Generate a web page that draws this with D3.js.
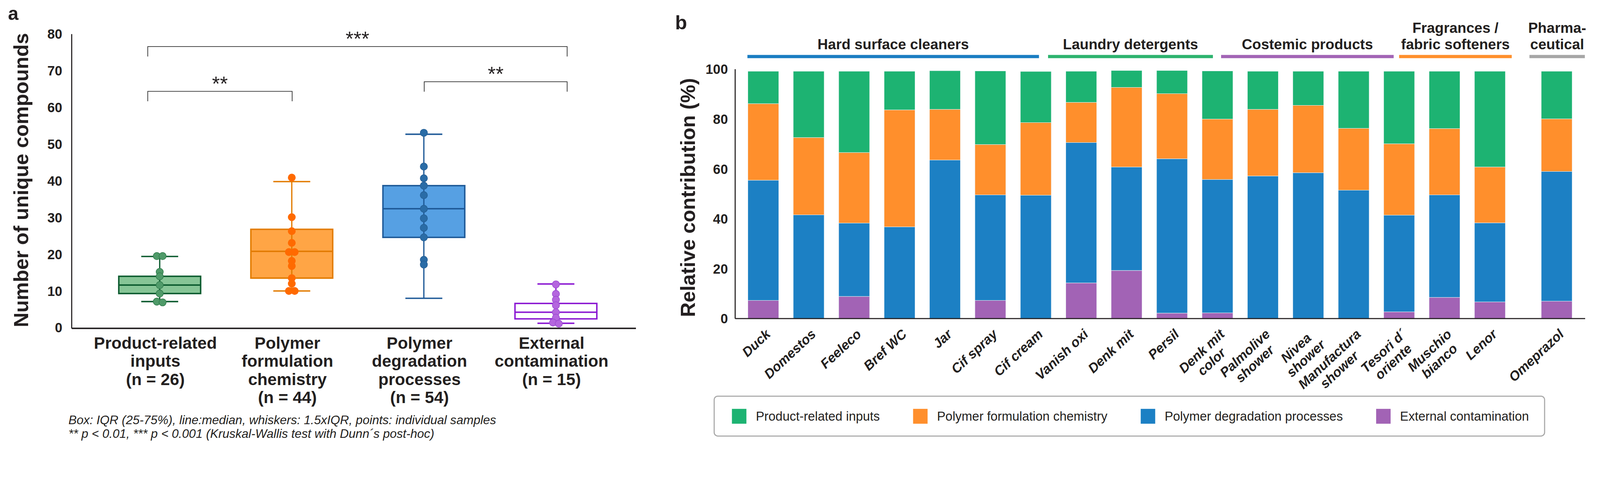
<!DOCTYPE html>
<html>
<head>
<meta charset="utf-8">
<script src="https://cdn.jsdelivr.net/npm/d3@7"></script>
<style>
  html, body { margin: 0; padding: 0; background: #fff; overflow: hidden; }
  svg { display: block; width: 100vw; height: 100vh; }
  text { font-family: "Liberation Sans", Arial, sans-serif; fill: #231f20; }
</style>
</head>
<body>
<script>
/* Panel a: box plots of unique compounds, panel b: stacked contribution bars */

// ---- panel a data ----
const boxCategories = ["Product-related inputs", "Polymer formulation chemistry", "Polymer degradation processes", "External contamination"];
const boxLabels = [
    ["Product-related", "inputs", "(n = 26)"],
    ["Polymer", "formulation", "chemistry", "(n = 44)"],
    ["Polymer", "degradation", "processes", "(n = 54)"],
    ["External", "contamination", "(n = 15)"]
];
const whiskerLow  = [7.1, 10.0, 8.0, 1.2];
const quart1      = [9.3, 13.5, 24.6, 2.4];
const medians     = [11.6, 20.8, 32.4, 4.2];
const quart3      = [14.0, 26.8, 38.7, 6.6];
const whiskerHigh = [19.4, 39.8, 52.7, 11.9];
const samplesProduct     = [19.5, 19.5, 15.2, 14.0, 11.6, 9.3, 7.1, 6.9];
const samplesFormulation = [40.9, 30.1, 26.3, 23.1, 20.6, 20.6, 18.2, 16.8, 13.5, 12.0, 10.0, 10.0];
const samplesDegradation = [53.1, 43.9, 40.7, 38.7, 36.1, 32.4, 29.8, 27.2, 24.6, 18.5, 17.2];
const samplesExternal    = [11.8, 9.2, 7.6, 6.1, 4.2, 2.7, 1.4, 1.1];
const boxTicks = [0, 10, 20, 30, 40, 50, 60, 70, 80];
// significance: [from, to, level, stars]
const sigFrom  = [0, 0, 2];
const sigTo    = [3, 1, 3];
const sigLevel = [76.6, 64.4, 67.0];
const sigStars = ["***", "**", "**"];

// ---- panel b data ----
const products = ["Duck", "Domestos", "Feeleco", "Bref WC", "Jar", "Cif spray", "Cif cream",
    "Vanish oxi", "Denk mit", "Persil", "Denk mit color",
    "Palmolive shower", "Nivea shower", "Manufactura shower",
    "Tesori d´ oriente", "Muschio bianco", "Lenor", "Omeprazol"];
const productLabels = [["Duck"], ["Domestos"], ["Feeleco"], ["Bref WC"], ["Jar"], ["Cif spray"], ["Cif cream"],
    ["Vanish oxi"], ["Denk mit"], ["Persil"], ["Denk mit", "color"],
    ["Palmolive", "shower"], ["Nivea", "shower"], ["Manufactura", "shower"],
    ["Tesori d´", "oriente"], ["Muschio", "bianco"], ["Lenor"], ["Omeprazol"]];
const externalContamination = [7.3, 0, 8.9, 0, 0, 7.3, 0, 14.3, 19.3, 2.2, 2.3, 0, 0, 0, 2.7, 8.5, 6.7, 7.0];
const polymerDegradation    = [48.2, 41.6, 29.4, 36.8, 63.6, 42.3, 49.5, 56.3, 41.5, 61.9, 53.5, 57.2, 58.5, 51.5, 38.8, 41.1, 31.7, 52.0];
const polymerFormulation    = [30.7, 31.0, 28.3, 46.9, 20.3, 20.2, 29.1, 16.1, 31.9, 26.1, 24.2, 26.7, 27.0, 24.8, 28.6, 26.6, 22.4, 21.1];
const productRelated        = [13.0, 26.6, 32.6, 15.5, 15.5, 29.5, 20.5, 12.5, 6.8, 9.3, 19.3, 15.3, 13.7, 22.9, 29.1, 23.0, 38.4, 19.1];
const groupNames = [["Hard surface cleaners"], ["Laundry detergents"], ["Costemic products"], ["Fragrances /", "fabric softeners"], ["Pharma-", "ceutical"]];
const groupSizes = [7, 4, 3, 3, 1];
const barTicks = [0, 20, 40, 60, 80, 100];
const seriesNames = ["Product-related inputs", "Polymer formulation chemistry", "Polymer degradation processes", "External contamination"];

const width = 4418, height = 1238;

let svg = d3.select("body")
    .append("svg")
    .attr("viewBox", [0, 0, width, height]) // scale to whatever the window is
    .attr("preserveAspectRatio", "xMidYMin meet");

// ================= panel a =================
const boxFill   = ["#86c596", "#ffa545", "#56a0e3", "#ffffff"];
const boxStroke = ["#0b5a2e", "#e27b00", "#1f5a98", "#8b18d2"];
const dotFill   = ["#4f9a69", "#ff6a00", "#2a6ca6", "#b466de"];
const dotStroke = ["#2e7a4a", "#ff6a00", "#245e94", "#9a48d0"];
const samples = [samplesProduct, samplesFormulation, samplesDegradation, samplesExternal];

let yA = d3.scaleLinear().domain([0, 80]).range([904, 94]);
let xA = d3.scalePoint().domain(boxCategories).range([441, 1535]);

svg.append("text").text("a")
    .attr("x", 22).attr("y", 55)
    .style("font-size", "52px").style("font-weight", "bold");

// y axis (no tick marks, just labels)
svg.append("line")
    .attr("x1", 198).attr("x2", 198)
    .attr("y1", yA(80)).attr("y2", yA(0) + 2)
    .attr("stroke", "#231f20").attr("stroke-width", 3);

svg.append("g").selectAll("text")
    .data(boxTicks)
    .join("text")
    .attr("x", 172)
    .attr("y", d => yA(d))
    .attr("dy", "0.36em")
    .attr("text-anchor", "end")
    .style("font-size", "37px").style("font-weight", "bold")
    .text(d => d);

svg.append("text")
    .attr("transform", "translate(58,497) rotate(-90)")
    .attr("dy", "0.35em")
    .attr("text-anchor", "middle")
    .style("font-size", "56px").style("font-weight", "bold")
    .text("Number of unique compounds");

// spread near-equal samples sideways so they stay visible
function spread(vals, step) {
    let offs = vals.map(() => 0);
    let i = 0;
    while (i < vals.length) {
        let j = i;
        while (j + 1 < vals.length && Math.abs(vals[j + 1] - vals[i]) < 0.8) j++;
        let n = j - i + 1;
        for (let k = i; k <= j; k++) offs[k] = (k - i - (n - 1) / 2) * step;
        i = j + 1;
    }
    return offs;
}

boxCategories.forEach((c, i) => {
    let cx = xA(c);
    let g = svg.append("g");
    g.append("rect")
        .attr("x", cx - 113).attr("width", 226)
        .attr("y", yA(quart3[i])).attr("height", yA(quart1[i]) - yA(quart3[i]))
        .attr("fill", boxFill[i]).attr("stroke", boxStroke[i]).attr("stroke-width", 4);
    g.append("line")
        .attr("x1", cx).attr("x2", cx)
        .attr("y1", yA(whiskerLow[i])).attr("y2", yA(whiskerHigh[i]))
        .attr("stroke", boxStroke[i]).attr("stroke-width", 3.5);
    [whiskerLow[i], whiskerHigh[i]].forEach(v => {
        g.append("line")
            .attr("x1", cx - 51).attr("x2", cx + 51)
            .attr("y1", yA(v)).attr("y2", yA(v))
            .attr("stroke", boxStroke[i]).attr("stroke-width", 4);
    });
    g.append("line")
        .attr("x1", cx - 113).attr("x2", cx + 113)
        .attr("y1", yA(medians[i])).attr("y2", yA(medians[i]))
        .attr("stroke", boxStroke[i]).attr("stroke-width", 4);
    let offs = spread(samples[i], 16);
    g.selectAll("circle")
        .data(samples[i])
        .join("circle")
        .attr("cx", (d, k) => cx + offs[k])
        .attr("cy", d => yA(d))
        .attr("r", 10)
        .attr("fill", dotFill[i])
        .attr("stroke", dotStroke[i]).attr("stroke-width", 1.5);
});

// x axis line
svg.append("line")
    .attr("x1", 198).attr("x2", 1756)
    .attr("y1", yA(0) + 2).attr("y2", yA(0) + 2)
    .attr("stroke", "#231f20").attr("stroke-width", 4);

// category labels
boxLabels.forEach((lines, i) => {
    svg.append("g").selectAll("text")
        .data(lines)
        .join("text")
        .attr("x", xA(boxCategories[i]) - 12)
        .attr("y", (d, k) => 962 + k * 50)
        .attr("text-anchor", "middle")
        .style("font-size", "46px").style("font-weight", "bold")
        .text(d => d);
});

// significance brackets
function bracketX(i) {
    let nudge = i === 0 ? -33 : (i === boxCategories.length - 1 ? 31 : 1);
    return xA(boxCategories[i]) + nudge;
}
sigStars.forEach((s, k) => {
    let x1 = bracketX(sigFrom[k]), x2 = bracketX(sigTo[k]);
    let yTop = yA(sigLevel[k]), yEnd = yA(sigLevel[k] - 2.7);
    svg.append("path")
        .attr("d", `M${x1},${yEnd}V${yTop}H${x2}V${yEnd}`)
        .attr("fill", "none").attr("stroke", "#333").attr("stroke-width", 2);
    svg.append("text")
        .attr("x", (x1 + x2) / 2)
        .attr("y", yTop - 2)
        .attr("text-anchor", "middle")
        .style("font-size", "56px")
        .text(s);
});

// footnote
const footnotes = ["Box: IQR (25-75%), line:median, whiskers: 1.5xIQR, points: individual samples",
    "** p < 0.01, *** p < 0.001 (Kruskal-Wallis test with Dunn´s post-hoc)"];
svg.append("g").selectAll("text")
    .data(footnotes)
    .join("text")
    .attr("x", 189)
    .attr("y", (d, k) => 1170 + k * 38)
    .style("font-size", "34px").style("font-style", "italic")
    .text(d => d);

// ================= panel b =================
const keys = ["ext", "deg", "form", "prod"];
const keyColors = { prod: "#1db372", form: "#ff8f2c", deg: "#1c80c4", ext: "#a263b5" };
const legendKeys = ["prod", "form", "deg", "ext"];
const groupColors = ["#1a7dc2", "#2db36e", "#a264b5", "#ff8f2c", "#a6a6a6"];

let rows = products.map((p, i) => ({
    name: p,
    ext: externalContamination[i],
    deg: polymerDegradation[i],
    form: polymerFormulation[i],
    prod: productRelated[i]
}));
let stacked = d3.stack().keys(keys)(rows);

// which group each product falls in
let groupOf = [];
groupSizes.forEach((n, g) => { for (let k = 0; k < n; k++) groupOf.push(g); });

let xB = d3.scaleBand()
    .domain(products)
    .range([2045, 2045 + products.length * 125.4])
    .paddingInner(0.32)
    .paddingOuter(0.16);
const pharmaGap = 59;
let barX = name => xB(name) + (groupOf[products.indexOf(name)] === groupSizes.length - 1 ? pharmaGap : 0);

let yB = d3.scaleLinear().domain([0, 100]).range([879, 191]);

svg.append("text").text("b")
    .attr("x", 1864).attr("y", 81)
    .style("font-size", "54px").style("font-weight", "bold");

svg.append("line")
    .attr("x1", 2030).attr("x2", 2030)
    .attr("y1", yB(100)).attr("y2", yB(0))
    .attr("stroke", "#231f20").attr("stroke-width", 3);

svg.append("g").selectAll("text")
    .data(barTicks)
    .join("text")
    .attr("x", 2010)
    .attr("y", d => yB(d))
    .attr("dy", "0.36em")
    .attr("text-anchor", "end")
    .style("font-size", "37px").style("font-weight", "bold")
    .text(d => d);

svg.append("text")
    .attr("transform", "translate(1899,545) rotate(-90)")
    .attr("dy", "0.35em")
    .attr("text-anchor", "middle")
    .style("font-size", "56px").style("font-weight", "bold")
    .text("Relative contribution (%)");

// stacked bars
svg.append("g")
    .selectAll("g")
    .data(stacked)
    .join("g")
    .attr("fill", s => keyColors[s.key])
    .selectAll("rect")
    .data(s => s.filter(d => d[1] - d[0] > 0))
    .join("rect")
    .attr("x", d => barX(d.data.name))
    .attr("width", xB.bandwidth())
    .attr("y", d => yB(d[1]))
    .attr("height", d => yB(d[0]) - yB(d[1]))
    .attr("stroke", "#eef3f6").attr("stroke-width", 1);

svg.append("line")
    .attr("x1", 2030).attr("x2", 4377)
    .attr("y1", yB(0)).attr("y2", yB(0))
    .attr("stroke", "#231f20").attr("stroke-width", 3);

// group headers: line spans in bar-slot units
const headerSpan = [[0.15, 6.57], [6.77, 10.40], [10.58, 14.38], [14.50, 16.98], [17.37, 18.59]];
let slot = d3.scaleLinear().domain([0, products.length]).range(xB.range());
groupNames.forEach((lines, g) => {
    let x1 = slot(headerSpan[g][0]), x2 = slot(headerSpan[g][1]);
    svg.append("line")
        .attr("x1", x1).attr("x2", x2)
        .attr("y1", 156).attr("y2", 156)
        .attr("stroke", groupColors[g]).attr("stroke-width", 9);
    svg.append("g").selectAll("text")
        .data(lines)
        .join("text")
        .attr("x", (x1 + x2) / 2)
        .attr("y", (d, k) => 136 - (lines.length - 1 - k) * 45)
        .attr("text-anchor", "middle")
        .style("font-size", "40px").style("font-weight", "bold")
        .text(d => d);
});

// rotated product labels, multi-line blocks centred on the widest line
productLabels.forEach((lines, i) => {
    let cx = barX(products[i]) + xB.bandwidth() / 2;
    let g = svg.append("g")
        .attr("transform", `translate(${cx + 22},925) rotate(-43)`);
    let t = g.selectAll("text")
        .data(lines)
        .join("text")
        .attr("y", (d, k) => k * 40)
        .attr("text-anchor", "middle")
        .style("font-size", "37px").style("font-weight", "bold").style("font-style", "italic")
        .text(d => d);
    let w = d3.max(t.nodes(), n => n.getComputedTextLength());
    t.attr("x", -w / 2);
});

// legend
let legend = svg.append("g");
legend.append("rect")
    .attr("x", 1972).attr("y", 1093)
    .attr("width", 2293).attr("height", 110)
    .attr("rx", 10)
    .attr("fill", "#fff").attr("stroke", "#a8a8a8").attr("stroke-width", 3);
let lx = 2021;
legendKeys.forEach((k, i) => {
    legend.append("rect")
        .attr("x", lx).attr("y", 1128)
        .attr("width", 40).attr("height", 41)
        .attr("fill", keyColors[k]);
    let t = legend.append("text")
        .attr("x", lx + 66).attr("y", 1148)
        .attr("dy", "0.35em")
        .style("font-size", "35px")
        .text(seriesNames[i]);
    lx += 66 + t.node().getComputedTextLength() + 92;
});
</script>
</body>
</html>
